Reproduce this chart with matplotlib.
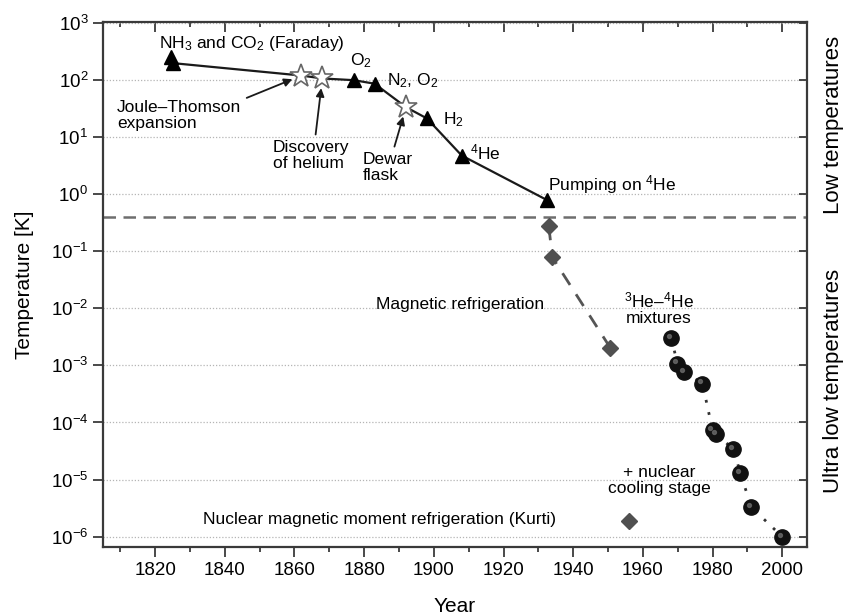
import matplotlib
matplotlib.use('Agg')
import matplotlib.pyplot as plt
from matplotlib import transforms
import numpy as np

plt.rcParams['font.family'] = ['Liberation Sans', 'DejaVu Sans']
plt.rcParams['mathtext.fontset'] = 'custom'
plt.rcParams['mathtext.rm'] = 'Liberation Sans'
plt.rcParams['mathtext.it'] = 'Liberation Sans:italic'
plt.rcParams['mathtext.bf'] = 'Liberation Sans:bold'

# liquefaction milestones (triangles) and technique milestones (stars)
tri_year = [1824.5, 1825, 1877, 1883, 1898, 1908, 1932.5]
tri_temp = [250, 195, 98, 85, 21, 4.7, 0.78]
star_year = [1862, 1868, 1892]
star_temp = [118, 105, 33]

# magnetic refrigeration
mag_year = [1933, 1934, 1950.7]
mag_temp = [0.27, 0.078, 0.002]
kurti_year = [1956]
kurti_temp = [1.9e-6]

# 3He-4He dilution mixtures
mix_year = [1968.2, 1969.9, 1971.9, 1977.1, 1980.0, 1981.1, 1986.0, 1988.0, 1991.1, 2000.0]
mix_temp = [2.95e-3, 1.07e-3, 7.6e-4, 4.8e-4, 7.3e-5, 6.2e-5, 3.4e-5, 1.29e-5, 3.3e-6, 1.0e-6]

boundary_temp = 0.39

fig = plt.figure(figsize=(8.5, 6.16), dpi=100)
ax = fig.add_axes([0.121, 0.112, 0.828, 0.853])

# solid line through all early points, in time order
line_year = np.array(tri_year + star_year)
line_temp = np.array(tri_temp + star_temp)
order = np.argsort(line_year)
ax.plot(line_year[order][1:], line_temp[order][1:], '-', color='#1a1a1a', lw=1.6, zorder=2)
ax.plot(tri_year, tri_temp, '^', color='black', ms=10, zorder=4)
ax.plot(star_year, star_temp, '*', mfc='white', mec='#666666', mew=1.2, ms=17, zorder=4)

ax.axhline(boundary_temp, color='#6e6e6e', lw=1.8, ls=(0, (5, 3)), zorder=1)

ax.plot(mag_year, mag_temp, ls=(0, (5, 4)), color='#555555', lw=2, zorder=2)
ax.plot(mag_year, mag_temp, 'D', color='#505050', ms=8, zorder=4)
ax.plot(kurti_year, kurti_temp, 'D', color='#505050', ms=8, zorder=4)

ax.plot(mix_year, mix_temp, ls=(0, (1, 3.5)), color='#333333', lw=2, zorder=2)
ax.plot(mix_year, mix_temp, 'o', color='#111111', ms=11, zorder=4)
hl = transforms.offset_copy(ax.transData, fig=fig, x=-1.6, y=1.6, units='points')
ax.plot(mix_year, mix_temp, 'o', color='#6a6a6a', ms=2.8, transform=hl, zorder=5, alpha=0.8)

ax.set_yscale('log')
ax.set_xlim(1805, 2007)
ax.set_ylim(10**-6.18, 10**3.017)
ax.set_yticks([10.0**k for k in range(-6, 4)])
ax.yaxis.set_minor_locator(matplotlib.ticker.NullLocator())
ax.set_xticks(range(1820, 2001, 20))
ax.set_xticks(range(1810, 2001, 20), minor=True)
ax.grid(axis='y', which='major', color='#b5b5b5', ls=(0, (1, 1.5)), lw=0.9)

for s in ax.spines.values():
    s.set_color('#3a3a3a')
    s.set_linewidth(1.6)
ax.tick_params(which='major', direction='out', length=7, width=1.3, color='#3a3a3a',
               labelsize=13.5, top=False, right=False)
ax.tick_params(which='minor', direction='out', length=3.5, width=1.3, color='#3a3a3a',
               top=False, right=False)

# inward ticks mirrored on top and right
axt = ax.secondary_xaxis('top')
axt.set_xticks(range(1820, 2001, 20))
axt.set_xticks(range(1810, 2001, 20), minor=True)
axt.tick_params(which='major', direction='in', length=7, width=1.3, color='#3a3a3a', labeltop=False)
axt.tick_params(which='minor', direction='in', length=3.5, width=1.3, color='#3a3a3a')
axt.spines['top'].set_visible(False)
axr = ax.twinx()
axr.set_yscale('log')
axr.set_ylim(ax.get_ylim())
axr.set_yticks([10.0**k for k in range(-6, 4)])
axr.yaxis.set_minor_locator(matplotlib.ticker.NullLocator())
axr.tick_params(direction='in', length=6, width=1.3, color='#3a3a3a', labelright=False)
for s in axr.spines.values():
    s.set_visible(False)

ax.set_xlabel('Year', fontsize=15, labelpad=13)
ax.set_ylabel('Temperature [K]', fontsize=15, labelpad=12)

fs = 12.5
ax.text(1821, 10**2.64, 'NH$_3$ and CO$_2$ (Faraday)', fontsize=fs, va='center')
ax.text(1875.9, 10**2.33, 'O$_2$', fontsize=fs, va='center')
ax.text(1886.5, 10**1.99, 'N$_2$, O$_2$', fontsize=fs, va='center')
ax.text(1902.5, 10**1.30, 'H$_2$', fontsize=fs, va='center')
ax.text(1910.3, 10**0.72, '$^4$He', fontsize=fs, va='center')
ax.text(1932.9, 10**0.17, 'Pumping on $^4$He', fontsize=fs, va='center')
ax.text(1964.5, 10**-2.0, '$^3$He–$^4$He\nmixtures', fontsize=fs, ha='center', va='center',
        linespacing=1.1)
ax.text(1883.3, 10**-1.93, 'Magnetic refrigeration', fontsize=fs, va='center')
ax.text(1964.7, 10**-5.02, '+ nuclear\ncooling stage', fontsize=fs, ha='center', va='center',
        linespacing=1.1)
ax.text(1833.8, 10**-5.70, 'Nuclear magnetic moment refrigeration (Kurti)', fontsize=fs, va='center')

arrow = dict(arrowstyle='-|>', color='#1a1a1a', lw=1.3, mutation_scale=12, shrinkA=2, shrinkB=7)
ax.annotate('Joule–Thomson\nexpansion', xy=(star_year[0], star_temp[0]), xytext=(1809.1, 10**1.37),
            fontsize=fs, va='center', ha='left', linespacing=1.1,
            arrowprops=dict(arrow, relpos=(1.0, 1.0)))
ax.annotate('Discovery\nof helium', xy=(star_year[1], star_temp[1]), xytext=(1853.8, 10**0.67),
            fontsize=fs, va='center', ha='left', linespacing=1.1,
            arrowprops=dict(arrow, relpos=(0.55, 1.0)))
ax.annotate('Dewar\nflask', xy=(star_year[2], star_temp[2]), xytext=(1879.6, 10**0.46),
            fontsize=fs, va='center', ha='left', linespacing=1.1,
            arrowprops=dict(arrow, relpos=(0.6, 1.0)))

fig.text(0.981, 0.797, 'Low temperatures', rotation=90, fontsize=16, ha='center', va='center')
fig.text(0.981, 0.381, 'Ultra low temperatures', rotation=90, fontsize=16, ha='center', va='center')

fig.savefig('out.png', dpi=100)
